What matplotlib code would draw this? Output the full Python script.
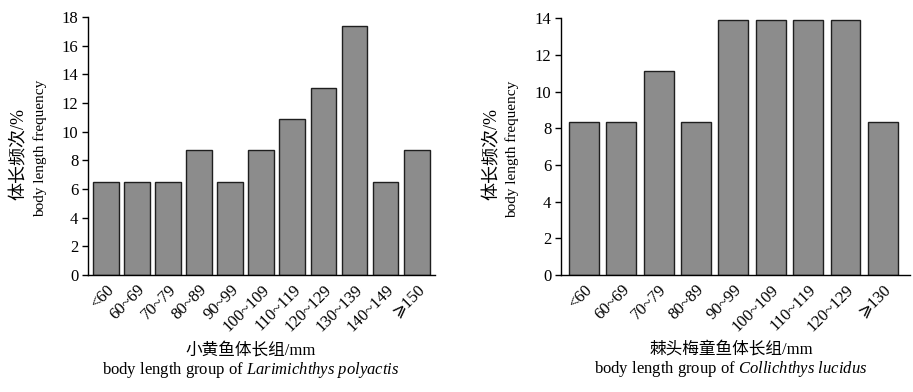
import matplotlib
matplotlib.use('Agg')
import matplotlib.pyplot as plt
import numpy as np

plt.rcParams['font.family'] = ['Liberation Serif', 'Noto Sans CJK SC', 'DejaVu Sans']
plt.rcParams['mathtext.fontset'] = 'custom'
plt.rcParams['mathtext.rm'] = 'Liberation Serif'
plt.rcParams['mathtext.it'] = 'Liberation Serif:italic'
plt.rcParams['font.size'] = 12

# small yellow croaker (n=46)
groups_a = ['<60', '60~69', '70~79', '80~89', '90~99', '100~109', '110~119',
            '120~129', '130~139', '140~149', '⩾150']
freq_a = [6.52, 6.52, 6.52, 8.70, 6.52, 8.70, 10.87, 13.04, 17.39, 6.52, 8.70]

# Collichthys lucidus (n=36)
groups_b = ['<60', '60~69', '70~79', '80~89', '90~99', '100~109', '110~119',
            '120~129', '⩾130']
freq_b = [8.33, 8.33, 11.11, 8.33, 13.89, 13.89, 13.89, 13.89, 8.33]

fig = plt.figure(figsize=(9.13, 3.92), dpi=100)
ax1 = fig.add_axes([0.0964, 0.2985, 0.380, 0.658])
ax2 = fig.add_axes([0.6145, 0.2985, 0.382, 0.655])


def draw(ax, groups, freq, ymax, xlim, width, cn, species, xc):
    x = np.arange(len(groups))
    ax.bar(x, freq, width=width, color='#8c8c8c', edgecolor='#1f1f1f', linewidth=1.0)
    ax.set_xlim(*xlim)
    ax.set_ylim(0, ymax)
    ax.set_yticks(np.arange(0, ymax + 1, 2))
    ax.set_xticks(x)
    ax.set_xticklabels(groups, rotation=45, ha='right', rotation_mode='anchor')
    ax.tick_params(axis='x', length=0, pad=5, labelsize=12)
    ax.tick_params(axis='y', length=4, direction='out', width=1, pad=3, labelsize=12)
    for s in ['top', 'right']:
        ax.spines[s].set_visible(False)
    for s in ['left', 'bottom']:
        ax.spines[s].set_linewidth(1.0)
    # y label, two lines
    ax.text(-0.198, 0.47, '体长频次/%', transform=ax.transAxes, rotation=90,
            ha='center', va='center', fontsize=13)
    ax.text(-0.139, 0.49, 'body length frequency', transform=ax.transAxes,
            rotation=90, ha='center', va='center', fontsize=11)
    # x label, two lines
    ax.text(xc, -0.291, cn + '/mm', transform=ax.transAxes, ha='center',
            va='center', fontsize=12)
    ax.text(xc, -0.368, 'body length group of $' + species + '$',
            transform=ax.transAxes, ha='center', va='center', fontsize=12)


draw(ax1, groups_a, freq_a, 18, (-0.58, 10.59), 0.83, '小黄鱼体长组',
     r'Larimichthys\ polyactis', 0.47)
draw(ax2, groups_b, freq_b, 14, (-0.61, 8.72), 0.80, '棘头梅童鱼体长组',
     r'Collichthys\ lucidus', 0.487)

fig.savefig('out.png', dpi=100)
